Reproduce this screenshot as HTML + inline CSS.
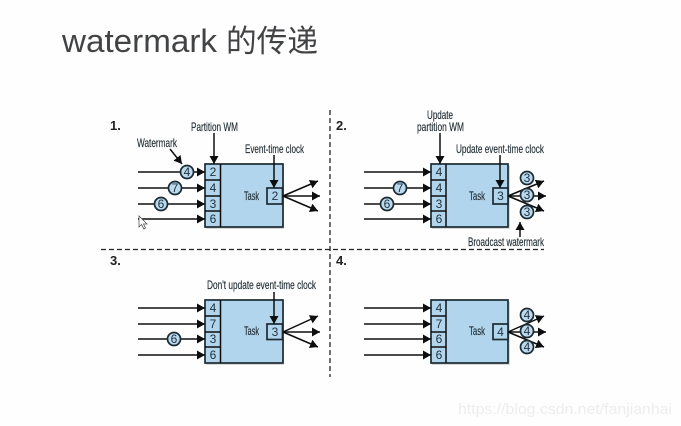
<!DOCTYPE html>
<html>
<head>
<meta charset="utf-8">
<style>
html,body{margin:0;padding:0;background:#fefefe;width:681px;height:426px;overflow:hidden}
svg{display:block;position:absolute;left:0;top:0}
.t{font-family:"Liberation Sans",sans-serif;font-size:12px;fill:#1f2a30;stroke:#1f2a30;stroke-width:.15}
.n{font-family:"Liberation Sans",sans-serif;font-size:12px;fill:#22333f;text-anchor:middle}
.h{font-family:"Liberation Sans",sans-serif;font-size:13px;font-weight:bold;fill:#222}
.box{fill:#b1d5ec;stroke:#1c2a33;stroke-width:1.7}
.ln{stroke:#111;stroke-width:1.5;fill:none}
.c{fill:#b9d9ee;stroke:#1c2a33;stroke-width:1.7}
</style>
</head>
<body>
<svg width="681" height="426" viewBox="0 0 681 426" xmlns="http://www.w3.org/2000/svg">
<defs>
<marker id="a" markerUnits="userSpaceOnUse" markerWidth="11" markerHeight="11" refX="8" refY="4.500" orient="auto">
<path d="M0 0L8 4.500L0 9Z" fill="#111"/>
</marker>
<filter id="b" x="0" y="0" width="100%" height="100%"><feGaussianBlur stdDeviation="0.3"/></filter>
</defs>

<text x="62" y="52" font-family="'Liberation Sans',sans-serif" font-size="32" fill="#414345" textLength="155" lengthAdjust="spacingAndGlyphs">watermark</text>
<text x="226" y="52" font-family="'Noto Sans CJK SC',sans-serif" font-size="31" fill="#414345" textLength="92" lengthAdjust="spacingAndGlyphs">的传递</text>

<g filter="url(#b)">
<line x1="330" y1="110" x2="330" y2="377" stroke="#222" stroke-width="1.3" stroke-dasharray="5 3"/>
<line x1="101" y1="249.500" x2="544" y2="249.500" stroke="#222" stroke-width="1.3" stroke-dasharray="5 3"/>

<text class="h" x="110" y="130">1.</text>
<text class="h" x="336" y="130">2.</text>
<text class="h" x="110" y="265">3.</text>
<text class="h" x="336" y="265">4.</text>

<!-- Panel 1 -->
<g>
<rect x="206" y="166" width="78" height="63" fill="#aaa" opacity=".45"/>
<rect class="box" x="205" y="164" width="78" height="63"/>
<path class="ln" d="M220.500 164V227M205 180H220.500M205 196H220.500M205 211H220.500" stroke-width="1.7"/>
<text class="n" x="213" y="176">2</text><text class="n" x="213" y="192">4</text><text class="n" x="213" y="208">3</text><text class="n" x="213" y="223">6</text>
<text class="t" x="244" y="200" textLength="15" lengthAdjust="spacingAndGlyphs">Task</text>
<rect class="box" x="267" y="188" width="15.500" height="16"/>
<text class="n" x="275" y="200">2</text>
<g marker-end="url(#a)" class="ln">
<path d="M138 172H205"/><path d="M138 188H205"/><path d="M138 204H205"/><path d="M138 219H205"/>
<path d="M283 196L318 181"/><path d="M283 196L320 196"/><path d="M283 196L318 211"/>
<path d="M214 133V164"/><path d="M274 155V188"/><path d="M170 149L182 164"/>
</g>
<circle class="c" cx="187" cy="172" r="6.500"/><text class="n" x="187" y="176">4</text>
<circle class="c" cx="175" cy="188" r="6.500"/><text class="n" x="175" y="192">7</text>
<circle class="c" cx="161" cy="204" r="6.500"/><text class="n" x="161" y="208">6</text>
<text class="t" x="191" y="131" textLength="47" lengthAdjust="spacingAndGlyphs">Partition WM</text>
<text class="t" x="137" y="147" textLength="40" lengthAdjust="spacingAndGlyphs">Watermark</text>
<text class="t" x="245" y="153" textLength="59" lengthAdjust="spacingAndGlyphs">Event-time clock</text>
</g>

<!-- Panel 2 -->
<g>
<rect x="432" y="166" width="78" height="63" fill="#aaa" opacity=".45"/>
<rect class="box" x="431" y="164" width="77" height="63"/>
<path class="ln" d="M446 164V227M431 180H446M431 196H446M431 211H446" stroke-width="1.7"/>
<text class="n" x="439" y="176">4</text><text class="n" x="439" y="192">4</text><text class="n" x="439" y="208">3</text><text class="n" x="439" y="223">6</text>
<text class="t" x="469" y="200" textLength="16" lengthAdjust="spacingAndGlyphs">Task</text>
<rect class="box" x="493" y="188" width="15" height="16"/>
<text class="n" x="500.500" y="200">3</text>
<g marker-end="url(#a)" class="ln">
<path d="M364 172H431"/><path d="M364 188H431"/><path d="M364 204H431"/><path d="M364 219H431"/>
<path d="M508 196L544 181"/><path d="M508 196L546 196"/><path d="M508 196L544 211"/>
<path d="M440 133V164"/><path d="M500 155V188"/><path d="M520 237V222"/>
</g>
<circle class="c" cx="400" cy="188" r="6.500"/><text class="n" x="400" y="192">7</text>
<circle class="c" cx="387" cy="204" r="6.500"/><text class="n" x="387" y="208">6</text>
<circle class="c" cx="527" cy="178" r="6.500"/><text class="n" x="527" y="182">3</text>
<circle class="c" cx="527" cy="195" r="6.500"/><text class="n" x="527" y="199">3</text>
<circle class="c" cx="527" cy="212" r="6.500"/><text class="n" x="527" y="216">3</text>
<text class="t" x="427" y="119" textLength="26" lengthAdjust="spacingAndGlyphs">Update</text>
<text class="t" x="417" y="131" textLength="47" lengthAdjust="spacingAndGlyphs">partition WM</text>
<text class="t" x="456" y="153" textLength="88" lengthAdjust="spacingAndGlyphs">Update event-time clock</text>
<text class="t" x="468" y="246" textLength="76" lengthAdjust="spacingAndGlyphs">Broadcast watermark</text>
</g>

<!-- Panel 3 -->
<g>
<rect x="206" y="302" width="78" height="63" fill="#aaa" opacity=".45"/>
<rect class="box" x="205" y="300" width="78" height="63"/>
<path class="ln" d="M220.500 300V363M205 316H220.500M205 332H220.500M205 347H220.500" stroke-width="1.7"/>
<text class="n" x="213" y="312">4</text><text class="n" x="213" y="328">7</text><text class="n" x="213" y="343">3</text><text class="n" x="213" y="359">6</text>
<text class="t" x="244" y="335" textLength="15" lengthAdjust="spacingAndGlyphs">Task</text>
<rect class="box" x="267" y="324" width="15.500" height="15.500"/>
<text class="n" x="275" y="336">3</text>
<g marker-end="url(#a)" class="ln">
<path d="M138 308H205"/><path d="M138 324H205"/><path d="M138 339H205"/><path d="M138 355H205"/>
<path d="M283 332L318 316"/><path d="M283 332L320 332"/><path d="M283 332L318 347"/>
<path d="M274 292V324"/>
</g>
<circle class="c" cx="174" cy="339" r="6.500"/><text class="n" x="174" y="343">6</text>
<text class="t" x="207" y="289" textLength="109" lengthAdjust="spacingAndGlyphs">Don't update event-time clock</text>
</g>

<!-- Panel 4 -->
<g>
<rect x="432" y="302" width="78" height="63" fill="#aaa" opacity=".45"/>
<rect class="box" x="431" y="300" width="77" height="63"/>
<path class="ln" d="M446 300V363M431 316H446M431 332H446M431 347H446" stroke-width="1.7"/>
<text class="n" x="439" y="312">4</text><text class="n" x="439" y="328">7</text><text class="n" x="439" y="343">6</text><text class="n" x="439" y="359">6</text>
<text class="t" x="469" y="335" textLength="16" lengthAdjust="spacingAndGlyphs">Task</text>
<rect class="box" x="493" y="324" width="15" height="15.500"/>
<text class="n" x="500.500" y="336">4</text>
<g marker-end="url(#a)" class="ln">
<path d="M364 308H431"/><path d="M364 324H431"/><path d="M364 339H431"/><path d="M364 355H431"/>
<path d="M508 332L544 316"/><path d="M508 332L546 332"/><path d="M508 332L544 347"/>
</g>
<circle class="c" cx="527" cy="315" r="6.500"/><text class="n" x="527" y="319">4</text>
<circle class="c" cx="527" cy="331" r="6.500"/><text class="n" x="527" y="335">4</text>
<circle class="c" cx="527" cy="347" r="6.500"/><text class="n" x="527" y="351">4</text>
</g>

<!-- Cursor -->
<path d="M139 216V227L141.500 224.500L144 229L145.500 228L143.500 224L147 224Z" fill="#fff" stroke="#555" stroke-width=".8"/>
</g>

<text x="458" y="414" font-family="'Liberation Sans',sans-serif" font-size="15" fill="#eeecee" textLength="214" lengthAdjust="spacingAndGlyphs">https://blog.csdn.net/fanjianhai</text>
</svg>
</body>
</html>
